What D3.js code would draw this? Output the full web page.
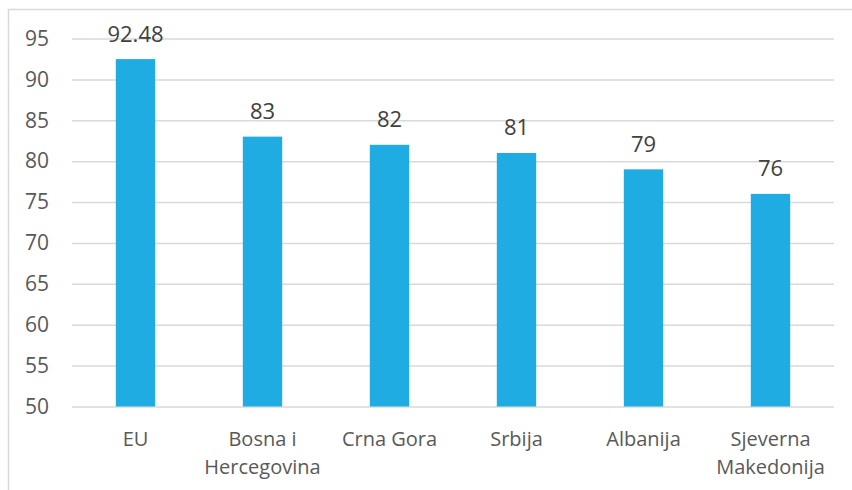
<!DOCTYPE html>
<html>
<head>
<meta charset="utf-8">
<script src="https://cdn.jsdelivr.net/npm/d3@7"></script>
<style>
  html, body { margin: 0; padding: 0; background: #fff; }
  svg { display: block; font-family: "Open Sans", sans-serif; }
</style>
</head>
<body>
<svg id="chart" width="852" height="490"></svg>
<script>
const categories = ["EU", "Bosna i Hercegovina", "Crna Gora", "Srbija", "Albanija", "Sjeverna Makedonija"];
const values = [92.48, 83, 82, 81, 79, 76];
const valueLabels = ["92.48", "83", "82", "81", "79", "76"];
const yTicks = [50, 55, 60, 65, 70, 75, 80, 85, 90, 95];

const svg = d3.select("#chart");
const W = 852, H = 490;
const plot = { left: 72, right: 834, top: 38.5, bottom: 406.5 };

// outer chart frame (extends past the right and bottom edges)
svg.append("rect")
  .attr("x", 8.5).attr("y", 9.5)
  .attr("width", W + 10).attr("height", H + 10)
  .attr("fill", "none").attr("stroke", "#d9d9d9").attr("stroke-width", 1.5);

const x = d3.scaleBand().domain(categories).range([plot.left, plot.right]).paddingInner(0.69).paddingOuter(0.345);
const y = d3.scaleLinear().domain([50, 95]).range([plot.bottom, plot.top]);

// horizontal gridlines
const yAxis = d3.axisLeft(y).tickValues(yTicks).tickSize(-(plot.right - plot.left)).tickPadding(23);
const gy = svg.append("g").attr("transform", `translate(${plot.left},0)`).call(yAxis);
gy.select(".domain").remove();
gy.selectAll(".tick line").attr("stroke", "#d9d9d9").attr("stroke-width", 1.5);
gy.selectAll(".tick text").attr("fill", "#595959").attr("font-size", 21)
  .attr("font-family", "Open Sans, sans-serif");

// bars
svg.append("g").selectAll("rect").data(categories).join("rect")
  .attr("x", d => x(d))
  .attr("width", x.bandwidth())
  .attr("y", (d, i) => y(values[i]))
  .attr("height", (d, i) => y(50) - y(values[i]))
  .attr("fill", "#1FACE3");

// value labels above bars
svg.append("g").selectAll("text").data(categories).join("text")
  .attr("x", d => x(d) + x.bandwidth() / 2)
  .attr("y", (d, i) => y(values[i]) - 17.5)
  .attr("text-anchor", "middle")
  .attr("fill", "#404040")
  .attr("font-size", 22)
  .text((d, i) => valueLabels[i]);

// category labels, wrapped to the band width
const step = x.step();
const gx = svg.append("g");
categories.forEach(c => {
  const cx = x(c) + x.bandwidth() / 2;
  const t = gx.append("text")
    .attr("x", cx)
    .attr("y", 446)
    .attr("text-anchor", "middle")
    .attr("fill", "#595959")
    .attr("font-size", 20);
  const words = c.split(" ");
  let line = [];
  let tspan = t.append("tspan").attr("x", cx).attr("dy", 0);
  words.forEach(w => {
    line.push(w);
    tspan.text(line.join(" "));
    if (tspan.node().getComputedTextLength() > step - 4 && line.length > 1) {
      line.pop();
      tspan.text(line.join(" "));
      line = [w];
      tspan = t.append("tspan").attr("x", cx).attr("dy", 28).text(w);
    }
  });
});
</script>
</body>
</html>
